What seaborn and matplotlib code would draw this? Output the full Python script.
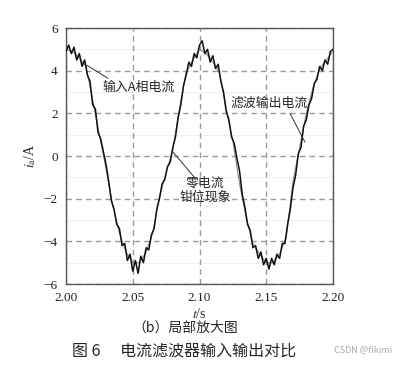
import numpy as np
import pandas as pd
import matplotlib
matplotlib.use("Agg")
import matplotlib.pyplot as plt
import seaborn as sns

# 数据
t_in = [2.000, 2.002, 2.004, 2.006, 2.008, 2.010, 2.012, 2.014, 2.016, 2.018,
        2.020, 2.022, 2.024, 2.026, 2.028, 2.030, 2.032, 2.034, 2.036, 2.038,
        2.040, 2.042, 2.044, 2.046, 2.048, 2.050, 2.052, 2.054, 2.056, 2.058,
        2.060, 2.062, 2.064, 2.066, 2.068, 2.070, 2.072, 2.074, 2.076, 2.078,
        2.080, 2.082, 2.084, 2.086, 2.088, 2.090, 2.092, 2.094, 2.096, 2.098,
        2.100, 2.102, 2.104, 2.106, 2.108, 2.110, 2.112, 2.114, 2.116, 2.118,
        2.120, 2.122, 2.124, 2.126, 2.128, 2.130, 2.132, 2.134, 2.136, 2.138,
        2.140, 2.142, 2.144, 2.146, 2.148, 2.150, 2.152, 2.154, 2.156, 2.158,
        2.160, 2.162, 2.164, 2.166, 2.168, 2.170, 2.172, 2.174, 2.176, 2.178,
        2.180, 2.182, 2.184, 2.186, 2.188, 2.190, 2.192, 2.194, 2.196, 2.198,
        2.200]
i_in = [4.9, 5.2, 4.8, 5.1, 4.5, 4.8, 4.2, 4.5, 3.8, 3.5,
        2.4, 2.2, 1.1, 0.8, 0.2, -0.4, -1.2, -2.1, -2.5, -3.2,
        -3.4, -4.2, -4.1, -4.9, -4.6, -5.4, -4.9, -5.5, -4.7, -5.0,
        -4.3, -4.4, -3.7, -3.4, -2.5, -2.0, -1.3, -1.1, -0.5, -0.3,
        0.4, 0.9, 1.8, 2.4, 3.3, 3.8, 4.4, 4.2, 4.8, 4.6,
        5.2, 5.4, 4.8, 5.0, 4.4, 4.7, 4.1, 4.3, 3.5, 3.0,
        2.1, 1.7, 0.9, 0.6, -0.1, -0.7, -1.8, -2.4, -3.2, -3.5,
        -4.3, -4.2, -4.8, -4.5, -5.1, -4.8, -5.3, -4.8, -5.1, -4.6,
        -4.8, -4.1, -4.1, -3.2, -2.5, -1.5, -0.9, 0.1, 0.4, 1.4,
        1.7, 2.4, 2.7, 3.4, 3.6, 4.2, 4.0, 4.5, 4.3, 4.9,
        5.0]

t_out = [2.000, 2.005, 2.010, 2.015, 2.020, 2.025, 2.030, 2.035, 2.040, 2.045,
         2.050, 2.055, 2.060, 2.065, 2.070, 2.075, 2.080, 2.085, 2.090, 2.095,
         2.100, 2.105, 2.110, 2.115, 2.120, 2.125, 2.130, 2.135, 2.140, 2.145,
         2.150, 2.155, 2.160, 2.165, 2.170, 2.175, 2.180, 2.185, 2.190, 2.195,
         2.200]
i_out = [5.0, 4.9, 4.6, 4.2, 2.6, 1.0, -0.6, -2.3, -3.6, -4.5,
         -5.0, -5.0, -4.5, -3.6, -1.9, -0.8, 0.3, 2.2, 3.9, 4.5,
         5.0, 4.8, 4.4, 3.9, 2.2, 0.7, -1.3, -2.9, -4.1, -4.6,
         -5.0, -5.0, -4.6, -3.8, -1.2, 0.4, 2.0, 3.2, 4.1, 4.5,
         4.9]

x_ticks = [2.00, 2.05, 2.10, 2.15, 2.20]
y_ticks = [-6, -4, -2, 0, 2, 4, 6]

df_in = pd.DataFrame({"t": t_in, "i": i_in})
df_out = pd.DataFrame({"t": t_out, "i": i_out})

sns.set_style("white")
plt.rcParams['font.family'] = ['Liberation Serif', 'Noto Sans CJK SC', 'DejaVu Sans']
plt.rcParams['mathtext.fontset'] = 'stix'
cjk = ['Noto Sans CJK SC', 'DejaVu Sans']

fig = plt.figure(figsize=(3.94, 3.80), dpi=100)
ax = fig.add_axes([0.1675, 0.2526, 0.6777, 0.6737])

# 淡色次网格
for v in [-5, -3, -1, 1, 3, 5]:
    ax.axhline(v, color='#ececec', lw=0.6, zorder=0)
ax.grid(True, color='#9a9a9a', linestyle=(0, (4, 3)), linewidth=1.0)

sns.lineplot(data=df_out, x="t", y="i", ax=ax, color='#8a8a8a', lw=0.8, zorder=3)
sns.lineplot(data=df_in, x="t", y="i", ax=ax, color='#111111', lw=1.1, zorder=4)

ax.set_xlim(2.00, 2.20)
ax.set_ylim(-6, 6)
ax.set_xticks(x_ticks)
ax.set_xticklabels(["%.2f" % v for v in x_ticks])
ax.set_yticks(y_ticks)
ax.set_yticklabels([("\u2212%d" % -v) if v < 0 else "%d" % v for v in y_ticks])
ax.tick_params(labelsize=9.5, length=0, pad=6, colors='#222222')
for s in ax.spines.values():
    s.set_color('#555555')
    s.set_linewidth(1.0)

ax.set_xlabel(r"$t$/s", fontsize=10, labelpad=2)
ax.set_ylabel(r"$i_{\mathrm{a}}$/A", fontsize=10, labelpad=4)

# 注释
ax.plot([2.0157, 2.0315], [4.25, 3.64], color='#333333', lw=0.7, zorder=5)
ax.text(2.0275, 3.2, "输入A相电流", family=cjk, fontsize=9.3, va='center', ha='left', zorder=6)
ax.plot([2.1678, 2.179], [2.0, 0.65], color='#333333', lw=0.7, zorder=5)
ax.text(2.152, 2.48, "滤波输出电流", family=cjk, fontsize=9.3, va='center', ha='center', zorder=6)
ax.plot([2.0801, 2.0966], [0.19, -1.03], color='#333333', lw=0.7, zorder=5)
ax.text(2.104, -1.6, "零电流\n钳位现象", family=cjk, fontsize=9.3, va='center', ha='center',
        linespacing=1.15, zorder=6)

fig.text(0.47, 1 - 328 / 380, "（b）局部放大图", family=cjk, fontsize=10, ha='center', va='center')
fig.text(0.467, 1 - 351 / 380, "图 6　 电流滤波器输入输出对比", family=cjk, fontsize=11.5,
         ha='center', va='center')
fig.text(0.995, 1 - 350 / 380, "CSDN @fikimi", family=cjk, fontsize=6.5, color='#aaaaaa',
         ha='right', va='center')

fig.savefig("out.png", dpi=100)
